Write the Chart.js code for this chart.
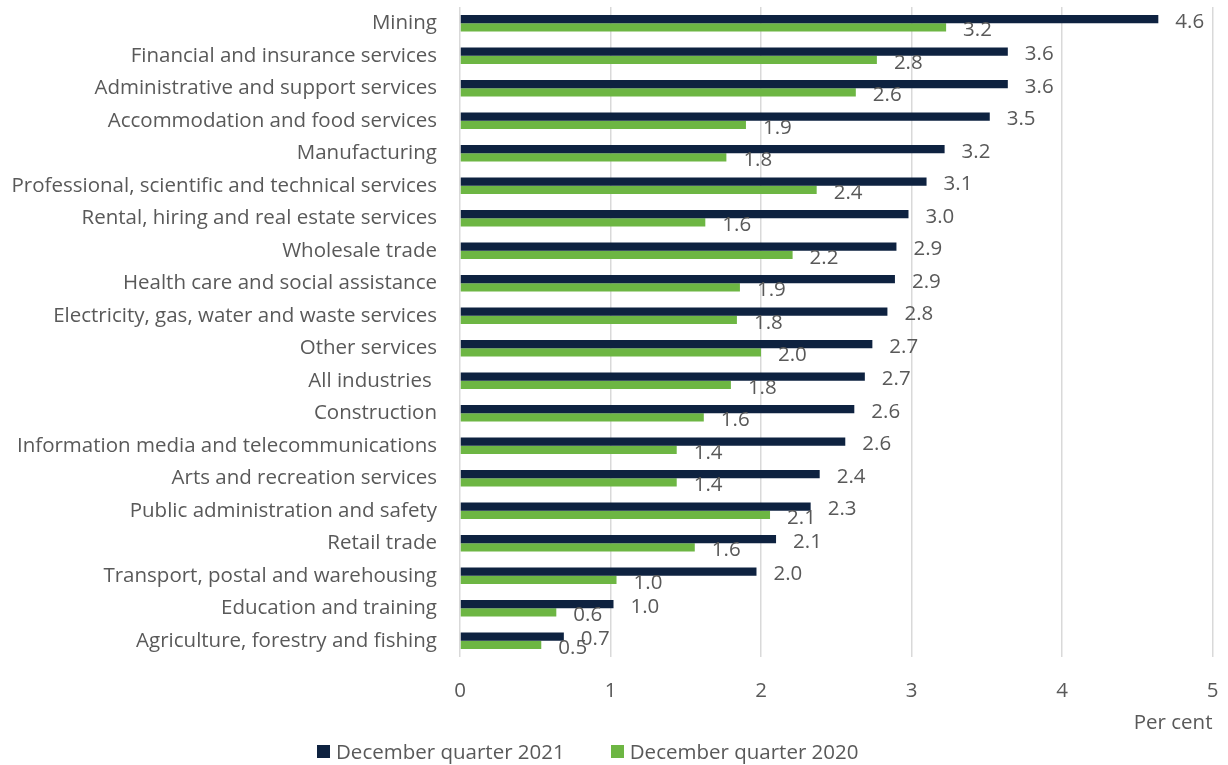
<!DOCTYPE html>
<html>
<head>
<meta charset="utf-8">
<script src="https://cdn.jsdelivr.net/npm/chart.js@4/dist/chart.umd.min.js"></script>
<style>
  html, body { margin: 0; padding: 0; background: #fff; }
  #wrap { position: relative; width: 1228px; height: 765px; }
  #legend { position: absolute; left: 317px; top: 737px; height: 28px; display: flex; align-items: center;
            font-family: "Open Sans", sans-serif; font-size: 20.5px; color: #595959; }
  #legend span.box { display: inline-block; width: 13px; height: 13px; margin-right: 6px; }
  #legend span.item { display: flex; align-items: center; margin-right: 46px; }
</style>
</head>
<body>
<div id="wrap">
  <canvas id="industryChart" width="1228" height="765"></canvas>
  <div id="legend"></div>
</div>
<script>
const industries = [
  'Mining', 'Financial and insurance services', 'Administrative and support services',
  'Accommodation and food services', 'Manufacturing', 'Professional, scientific and technical services',
  'Rental, hiring and real estate services', 'Wholesale trade', 'Health care and social assistance',
  'Electricity, gas, water and waste services', 'Other services', 'All industries ',
  'Construction', 'Information media and telecommunications', 'Arts and recreation services',
  'Public administration and safety', 'Retail trade', 'Transport, postal and warehousing',
  'Education and training', 'Agriculture, forestry and fishing'
];
const dec2021 = [4.64, 3.64, 3.64, 3.52, 3.22, 3.10, 2.98, 2.90, 2.89, 2.84,
                 2.74, 2.69, 2.62, 2.56, 2.39, 2.33, 2.10, 1.97, 1.02, 0.69];
const dec2020 = [3.23, 2.77, 2.63, 1.90, 1.77, 2.37, 1.63, 2.21, 1.86, 1.84,
                 2.00, 1.80, 1.62, 1.44, 1.44, 2.06, 1.56, 1.04, 0.64, 0.54];
const xMin = 0, xMax = 5, xStep = 1;

const seriesNames = ['December quarter 2021', 'December quarter 2020'];
const seriesColors = ['#0e2240', '#6db643'];
const textColor = '#595959';
const fontFamily = '"Open Sans", sans-serif';
const fontSize = 20.5;

// value labels just past the end of each bar
const barValueLabels = {
  id: 'barValueLabels',
  afterDatasetsDraw(chart) {
    const ctx = chart.ctx;
    ctx.save();
    ctx.font = fontSize + 'px ' + fontFamily;
    ctx.fillStyle = textColor;
    ctx.textAlign = 'left';
    ctx.textBaseline = 'middle';
    chart.data.datasets.forEach((ds, i) => {
      chart.getDatasetMeta(i).data.forEach((bar, j) => {
        ctx.fillText(ds.data[j].toFixed(1), bar.x + 17, bar.y + 3);
      });
    });
    ctx.restore();
  }
};

var ctx = document.getElementById('industryChart').getContext('2d');
var industryChart = new Chart(ctx, {
  type: 'bar',
  data: {
    labels: industries,
    datasets: [{
      label: seriesNames[0],
      backgroundColor: seriesColors[0],
      data: dec2021
    }, {
      label: seriesNames[1],
      backgroundColor: seriesColors[1],
      data: dec2020
    }]
  },
  options: {
    indexAxis: 'y',
    responsive: false,
    animation: false,
    datasets: { bar: { categoryPercentage: 0.51, barPercentage: 1.0 } },
    layout: { padding: { top: 7, right: 15.5, bottom: 30, left: 0 } },
    plugins: {
      legend: { display: false },
      tooltip: { enabled: false }
    },
    scales: {
      x: {
        min: xMin, max: xMax,
        grid: { color: '#d9d9d9', lineWidth: 1.5, drawTicks: false },
        border: { display: false },
        ticks: { stepSize: xStep, color: textColor, font: { family: fontFamily, size: fontSize }, padding: 22 },
        title: {
          display: true, text: 'Per cent', align: 'end', color: textColor,
          font: { family: fontFamily, size: fontSize }, padding: { top: 10, bottom: 0 }
        },
        // fixed axis height, no extra room reserved for the end tick labels
        afterFit: (scale) => {
          scale.height = 78;
          scale.paddingLeft = 0;
          scale.paddingRight = 0;
        }
      },
      y: {
        grid: { display: false, drawTicks: false },
        border: { display: false },
        ticks: { color: textColor, font: { family: fontFamily, size: fontSize }, padding: 23, autoSkip: false },
        afterFit: (scale) => {
          scale.width = 460;
          scale.paddingTop = 0;
          scale.paddingBottom = 0;
        }
      }
    }
  },
  plugins: [barValueLabels]
});

// legend under the axis title
const legend = document.getElementById('legend');
seriesNames.forEach((name, i) => {
  const item = document.createElement('span');
  item.className = 'item';
  item.innerHTML = '<span class="box" style="background:' + seriesColors[i] + '"></span>' + name;
  legend.appendChild(item);
});
</script>
</body>
</html>
